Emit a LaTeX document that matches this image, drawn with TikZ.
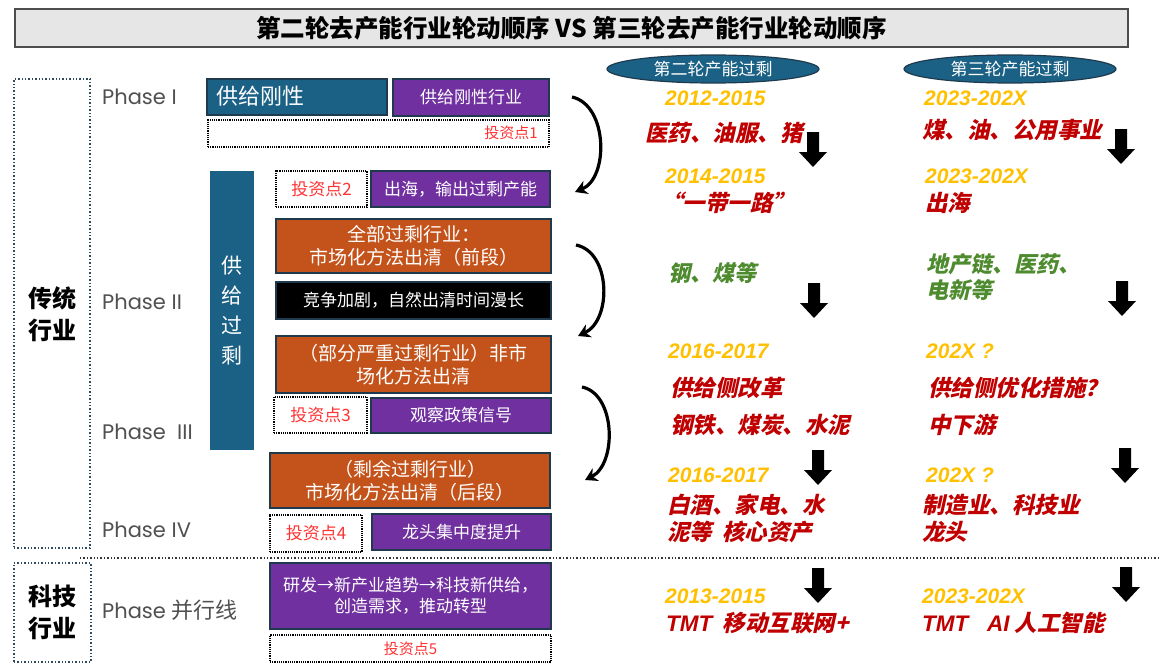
\documentclass[tikz,border=0pt]{standalone}
\usepackage{fontspec}
\setmainfont{Noto Sans CJK SC}
\newfontfamily\cjksl{Noto Sans CJK SC}[FakeSlant=0.22]
\newfontfamily\latsans{Liberation Sans}
\newfontfamily\phasefont{Poppins}
\usetikzlibrary{shapes.geometric,arrows.meta}
\definecolor{cTeal}{HTML}{1B6185}
\definecolor{cPurple}{HTML}{7030A0}
\definecolor{cOrange}{HTML}{C4531B}
\definecolor{cBorder}{HTML}{1F3A4D}
\definecolor{cRed}{HTML}{C00000}
\definecolor{cGold}{HTML}{FFC000}
\definecolor{cGreen}{HTML}{4E8B2F}
\definecolor{cInv}{HTML}{FF3333}
\definecolor{cSlate}{HTML}{2F4A5C}
\definecolor{cGrayT}{HTML}{4D4D4D}
\definecolor{cPhase}{HTML}{505050}
\definecolor{cTitle}{HTML}{E7E6E6}
\newcommand\fs[2]{\fontsize{#1}{#2}\selectfont}
\newcommand\bx[7]{%
  \pgfmathsetmacro\bxcx{(#2+#4)/2}\pgfmathsetmacro\bxcy{(#3+#5)/2}%
  \pgfmathsetmacro\bxw{#4-#2}\pgfmathsetmacro\bxh{#5-#3}%
  \node[#6, minimum width=\bxw pt, minimum height=\bxh pt] (#1) at (\bxcx,\bxcy) {#7};}
\begin{document}
\begin{tikzpicture}[x=1pt,y=-1pt,
  fbox/.style={draw=cBorder, line width=1.2pt, inner sep=0pt, text=white, align=center, font=\fs{17}{21}},
  tealbox/.style={fbox, fill=cTeal},
  purplebox/.style={fbox, fill=cPurple},
  orangebox/.style={fbox, fill=cOrange, font=\fs{19}{23}},
  blackbox/.style={fbox, fill=black},
  invbox/.style={draw=black, densely dotted, line width=1.2pt, inner sep=0pt, text=cInv, font=\fs{17}{21}},
  catbox/.style={draw=cSlate, dotted, line width=1.4pt, inner sep=0pt},
  cattext/.style={font=\bfseries\fs{24}{32}, align=center, text=black},
  titlebox/.style={draw=cGrayT, line width=1.3pt, fill=cTitle, inner sep=0pt, font=\bfseries\fs{24.5}{28}},
  phase/.style={anchor=west, text=cPhase, font=\phasefont\fs{21}{25}, inner sep=0pt},
  yr/.style={anchor=west, text=cGold, font=\latsans\bfseries\itshape\fs{21}{25}, inner sep=0pt},
  redt/.style={anchor=west, text=cRed, font=\cjksl\bfseries\fs{22.5}{27}, align=left, inner sep=0pt},
  greent/.style={anchor=west, text=cGreen, font=\cjksl\bfseries\fs{22}{26}, align=left, inner sep=0pt},
  ell/.style={ellipse, draw=cBorder, line width=1.2pt, fill=cTeal, text=white, minimum width=212pt, minimum height=28pt, inner sep=0pt, font=\fs{17}{20}},
  sepline/.style={dotted, line width=1.4pt, draw=black!80},
  curvarrow/.style={line width=3.2pt, -{Stealth[length=12pt,width=14pt]}},
  darrow/.pic={\fill[black] (-6,0) -- (6,0) -- (6,20) -- (14,20) -- (0,35) -- (-14,20) -- (-6,20) -- cycle;}
]
\useasboundingbox (0,0) rectangle (1170,669);
\fill[white] (0,0) rectangle (1170,669);

% title
\bx{title}{15}{9}{1128}{47}{titlebox}{第二轮去产能行业轮动顺序 VS 第三轮去产能行业轮动顺序}

% category boxes
\bx{trad}{14}{79}{90}{548}{catbox}{}
\node[cattext] (tradt) at (52,314) {传统\\行业};
\bx{tech}{14}{563}{91}{662}{catbox}{}
\node[cattext] (techt) at (52,612) {科技\\行业};

\coordinate (hl) at (80,558);
\coordinate (hr) at (1160,558);
\draw[sepline] (hl) -- (hr);

% phases
\node[phase] (p1) at (102,97) {Phase I};
\node[phase] (p2) at (102,302) {Phase II};
\node[phase] (p3) at (102,432) {Phase\ \ III};
\node[phase] (p4) at (102,530) {Phase IV};
\node[phase] (p5) at (102,610) {Phase {\rmfamily\fs{22}{25}并行线}};

% boxes
\bx{rigid}{207}{79}{387}{115}{tealbox}{}
\node[text=white, font=\fs{22}{26}, anchor=west, inner sep=0pt] (rigidt) at (216,96) {供给刚性};
\bx{rigidind}{393}{79}{549}{116}{purplebox}{供给刚性行业}
\bx{inv1}{208}{120}{549}{147}{invbox}{}
\node[text=cInv, font=\fs{15}{18}, inner sep=0pt] (inv1t) at (511,133) {投资点1};
\bx{surplus}{210}{171}{254}{450}{tealbox, draw=none, font=\fs{21}{30}}{供\\给\\过\\剩}
\bx{inv2}{276}{171}{367}{207}{invbox}{投资点2}
\bx{export}{371}{171}{550}{207}{purplebox}{出海，输出过剩产能}
\bx{allover}{276}{219}{551}{273}{orangebox}{全部过剩行业：\\市场化方法出清（前段）}
\bx{compete}{276}{282}{551}{319}{blackbox}{竞争加剧，自然出清时间漫长}
\bx{partial}{276}{336}{551}{393}{orangebox}{（部分严重过剩行业）非市\\场化方法出清}
\bx{inv3}{274}{397}{367}{433}{invbox}{投资点3}
\bx{policy}{371}{398}{551}{433}{purplebox}{观察政策信号}
\bx{rest}{270}{453}{550}{508}{orangebox}{（剩余过剩行业）\\市场化方法出清（后段）}
\bx{inv4}{270}{515}{362}{552}{invbox}{投资点4}
\bx{leader}{372}{514}{551}{550}{purplebox}{龙头集中度提升}
\bx{rd}{270}{563}{551}{629}{purplebox}{研发→新产业趋势→科技新供给，\\创造需求，推动转型}
\bx{inv5}{270}{635}{551}{662}{invbox, font=\fs{15}{18}}{投资点5}

% curved arrows
\coordinate (a1s) at (572,97);  \coordinate (a1e) at (575,192);
\coordinate (a2s) at (576,245); \coordinate (a2e) at (578,336);
\coordinate (a3s) at (582,387); \coordinate (a3e) at (585,480);
\draw[curvarrow] (a1s) .. controls (608,105) and (609,178) .. (a1e);
\draw[curvarrow] (a2s) .. controls (611,252) and (612,320) .. (a2e);
\draw[curvarrow] (a3s) .. controls (616,394) and (617,464) .. (a3e);

% ellipses
\node[ell] (r2) at (713,69) {第二轮产能过剩};
\node[ell] (r3) at (1010,69) {第三轮产能过剩};

% second round column
\node[yr] (y1) at (665,98) {2012-2015};
\node[redt] (t1) at (645,133) {医药、油服、猪};
\node[yr] (y2) at (665,176) {2014-2015};
\node[redt] (t2) at (660,203) {“一带一路”};
\node[greent] (t3) at (668,273) {钢、煤等};
\node[yr] (y3) at (668,351) {2016-2017};
\node[redt] (t4) at (670,388) {供给侧改革};
\node[redt] (t5) at (670,425) {钢铁、煤炭、水泥};
\node[yr] (y4) at (668,475) {2016-2017};
\node[redt] (t6) at (667,518.5) {白酒、家电、水\\泥等\ \ 核心资产};
\node[yr] (y5) at (665,596) {2013-2015};
\node[redt] (t7) at (666,623) {{\latsans\bfseries\itshape TMT}\ \ 移动互联网+};

% third round column
\node[yr] (z1) at (924,98) {2023-202X};
\node[redt] (u1) at (922,130) {煤、油、公用事业};
\node[yr] (z2) at (925,176) {2023-202X};
\node[redt] (u2) at (925,203) {出海};
\node[greent] (u3) at (926,277.5) {地产链、医药、\\电新等};
\node[yr] (z3) at (926,351) {202X ?};
\node[redt] (u4) at (928,388) {供给侧优化措施？};
\node[redt] (u5) at (928,425) {中下游};
\node[yr] (z4) at (926,475) {202X ?};
\node[redt] (u6) at (922,518.5) {制造业、科技业\\龙头};
\node[yr] (z5) at (922,596) {2023-202X};
\node[redt] (u7) at (922,623) {{\latsans\bfseries\itshape TMT\ \ \ AI} 人工智能};

% down arrows
\pic at (813,132) {darrow};
\pic at (1121,129) {darrow};
\pic at (814,283) {darrow};
\pic at (1122,281) {darrow};
\pic at (818,450) {darrow};
\pic at (1125,448) {darrow};
\pic at (818,568) {darrow};
\pic at (1126,567) {darrow};
\end{tikzpicture}
\end{document}
